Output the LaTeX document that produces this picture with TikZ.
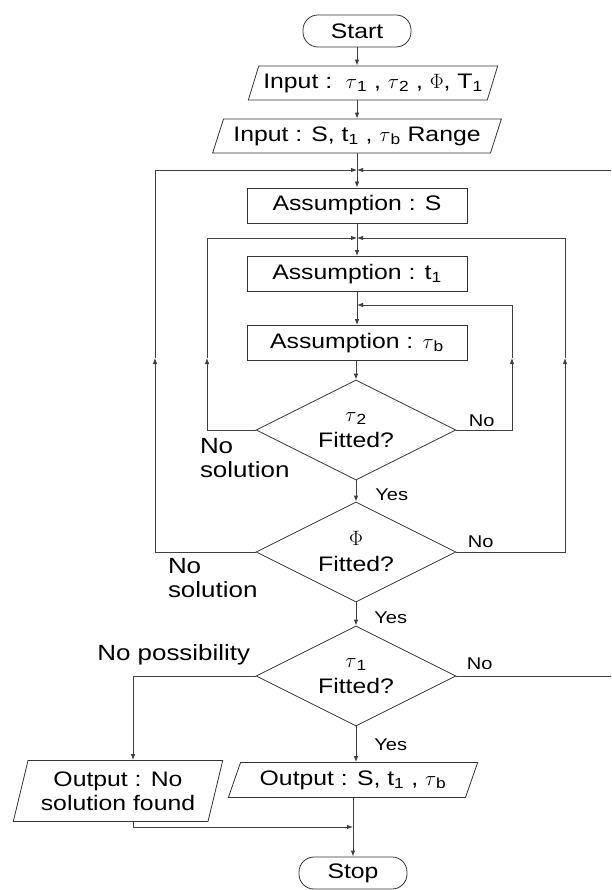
\documentclass[tikz,border=0pt]{standalone}
\usepackage{fontspec}
\setmainfont{Liberation Sans}[FakeStretch=1.18]
\usetikzlibrary{shapes.geometric,arrows.meta}

\tikzset{every picture/.style={line width=0.8pt}}
\tikzset{
	box/.style={draw=black!80, minimum width=220pt, minimum height=35pt, inner sep=0pt, font=\fontsize{21}{24}\selectfont},
	term/.style={draw=black!80, rounded corners=15pt, minimum width=108pt, minimum height=32pt, inner sep=0pt, font=\fontsize{21}{24}\selectfont},
	io/.style={draw=black!80, trapezium, trapezium left angle=62, trapezium right angle=118, trapezium stretches=true, minimum height=34pt, inner sep=0pt, font=\fontsize{21}{24}\selectfont},
	test/.style={draw=black!80, diamond, aspect=2, minimum width=200pt, minimum height=100pt, inner sep=0pt, align=center, font=\fontsize{21}{24}\selectfont},
	arr/.style={draw=black!75, -{Latex[length=6pt,width=4.5pt]}},
	conn/.style={draw=black!75},
	lbl/.style={font=\fontsize{22}{24}\selectfont, inner sep=0pt, align=left},
	yesno/.style={font=\fontsize{17}{20}\selectfont, inner sep=0pt}
}

\begin{document}
\begin{tikzpicture}[x=1pt,y=1pt,yscale=-1]
	\useasboundingbox (0,0) rectangle (612,890);

	% Terminals and boxes
	\node[term] (start) at (357,31) {Start};
	\node[io, minimum width=250pt] (in1) at (373,83) {Input :\ \ $\tau$\textsubscript{1} , $\tau$\textsubscript{2} , $\Phi$, T\textsubscript{1}};
	\node[io, minimum width=290pt] (in2) at (357,136) {Input : S, t\textsubscript{1} , $\tau$\textsubscript{b} Range};
	\node[box] (asmS) at (357,205.5) {Assumption : S};
	\node[box] (asmT) at (357,274) {Assumption : t\textsubscript{1}};
	\node[box] (asmB) at (357,343) {Assumption : $\tau$\textsubscript{b}};

	% Decisions
	\node[test] (fitA) at (356,430) {$\tau$\textsubscript{2}\\[2pt]Fitted?};
	\node[test] (fitB) at (356,552) {$\Phi$\\[2pt]Fitted?};
	\node[test] (fitC) at (356,676) {$\tau$\textsubscript{1}\\[2pt]Fitted?};

	% Outputs
	\node[io, minimum width=250pt, minimum height=35pt] (outS) at (353,780) {Output : S, t\textsubscript{1} , $\tau$\textsubscript{b}};
	\node[io, minimum width=210pt, minimum height=61pt, trapezium left angle=72, trapezium right angle=108, align=center] (outN) at (118,791) {Output : No\\solution found};
	\node[term] (stop) at (353,873) {Stop};

	% Junctions and loop corners
	\coordinate (jnA) at (357,170);
	\coordinate (jnB) at (357,238);
	\coordinate (jnC) at (357,305);
	\coordinate (jnD) at (353,827);
	\coordinate (upA) at (155,358);
	\coordinate (upB) at (207,358);
	\coordinate (upC) at (512,358);
	\coordinate (upD) at (565,358);
	\coordinate (edgeA) at (611,170);
	\coordinate (edgeB) at (611,676);
	\coordinate (noP) at (133,676);

	% Main flow
	\draw[arr] (start.south) -- (start.south |- in1.north);
	\draw[arr] (in1.south -| in2.north) -- (in2.north);
	\draw[arr] (in2.south -| jnA) -- (asmS.north -| jnA);
	\draw[arr] (asmS.south -| jnB) -- (asmT.north -| jnB);
	\draw[arr] (asmT.south -| jnC) -- (asmB.north -| jnC);
	\draw[arr] (asmB.south -| fitA.north) -- (fitA.north);
	\draw[arr] (fitA.south) -- node[yesno, right, xshift=19pt, yshift=-4pt] {Yes} (fitB.north);
	\draw[arr] (fitB.south) -- node[yesno, right, xshift=18pt, yshift=-4pt] {Yes} (fitC.north);
	\draw[arr] (fitC.south) -- node[yesno, right, xshift=18pt] {Yes} (fitC.south |- outS.north);
	\draw[arr] (outS.south -| stop.north) -- (stop.north);

	% Loops
	\draw[arr] (fitA.west) -| (upB);
	\draw[arr] (upB) |- (jnB);
	\draw[arr] (fitA.east) -| (upC);
	\draw[arr] (upC) |- (jnC);
	\draw[arr] (fitB.west) -| (upA);
	\draw[arr] (upA) |- (jnA);
	\draw[arr] (fitB.east) -| (upD);
	\draw[arr] (upD) |- (jnB);
	\draw[arr] (edgeA) -- (jnA);
	\draw[conn] (fitC.east) -- (edgeB);
	\draw[arr] (fitC.west) -| (noP |- outN.north);
	\draw[arr] (outN.south -| noP) |- (jnD);

	% Text Node
	\node[yesno, anchor=south west] (noA) at ([xshift=12pt,yshift=-3pt]fitA.east) {No};
	\node[yesno, anchor=south west] (noB) at ([xshift=11pt,yshift=-4pt]fitB.east) {No};
	\node[yesno, anchor=south west] (noC) at ([xshift=10pt,yshift=-6pt]fitC.east) {No};
	\node[lbl, anchor=north west] (nosolA) at ([xshift=-56pt,yshift=8pt]fitA.west) {No\\solution};
	\node[lbl, anchor=north west] (nosolB) at ([xshift=-88pt,yshift=6pt]fitB.west) {No\\solution};
	\node[lbl, anchor=east] (nopos) at ([xshift=-5pt,yshift=-21pt]fitC.west) {No possibility};
\end{tikzpicture}
\end{document}
